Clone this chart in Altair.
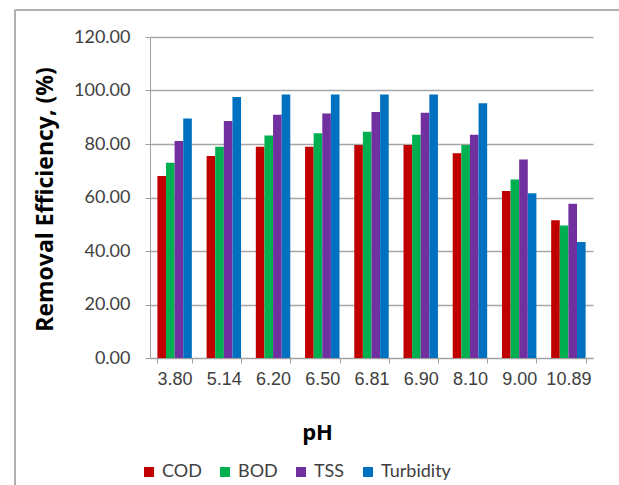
import altair as alt
import pandas as pd

ph = ["3.80", "5.14", "6.20", "6.50", "6.81", "6.90", "8.10", "9.00", "10.89"]
series = ["COD", "BOD", "TSS", "Turbidity"]
cod = [68.0, 75.5, 79.0, 79.0, 79.6, 79.6, 76.5, 62.4, 51.5]
bod = [73.0, 79.0, 83.2, 84.0, 84.6, 83.5, 79.6, 66.7, 49.5]
tss = [81.1, 88.6, 90.9, 91.4, 92.0, 91.7, 83.5, 74.2, 57.7]
turb = [89.5, 97.6, 98.5, 98.5, 98.5, 98.5, 95.2, 61.6, 43.4]
colors = ["#C00000", "#00B050", "#7030A0", "#0070C0"]

rows = []
for name, vals in zip(series, [cod, bod, tss, turb]):
    for p, v in zip(ph, vals):
        rows.append({"pH": p, "Parameter": name, "Value": v})
df = pd.DataFrame(rows)

FONT = "Lato"
TFONT = "Open Sans"

bars = alt.Chart(df).mark_bar().encode(
    x=alt.X("pH:N", sort=ph,
            scale=alt.Scale(paddingInner=0.3, paddingOuter=0.15),
            axis=alt.Axis(title="pH", labelAngle=0, tickBand="extent",
                          labelFontSize=18, labelFont="Liberation Sans",
                          labelColor="#404040", labelPadding=7,
                          tickSize=5, tickColor="#A0A0A0",
                          domainColor="#A0A0A0",
                          titleFontSize=22, titleFontWeight="bold",
                          titleFont=TFONT, titleColor="#000000",
                          titleX=167, titleY=74, titleBaseline="middle",
                          grid=False)),
    xOffset=alt.XOffset("Parameter:N", sort=series,
                        scale=alt.Scale(paddingInner=0, paddingOuter=0)),
    y=alt.Y("Value:Q",
            scale=alt.Scale(domain=[0, 120]),
            axis=alt.Axis(title="Removal Efficiency, (%)", values=[0, 20, 40, 60, 80, 100, 120],
                          format=".2f", labelFontSize=18, labelFont=FONT,
                          labelColor="#404040", labelPadding=15,
                          tickSize=5, tickColor="#A0A0A0",
                          domainColor="#A0A0A0",
                          gridColor="#A6A6A6", gridWidth=1.5,
                          titleFontSize=23, titleFontWeight="bold",
                          titleFont=TFONT, titleColor="#000000",
                          titleX=-105, titleY=162, titleAngle=-90,
                          titleAlign="center", titleBaseline="middle")),
    color=alt.Color("Parameter:N", sort=series,
                    scale=alt.Scale(domain=series, range=colors),
                    legend=alt.Legend(title=None, orient="none", direction="horizontal",
                                      legendX=-10, legendY=426,
                                      symbolType="square", symbolSize=100,
                                      symbolStrokeWidth=0,
                                      labelFontSize=18, labelFont=FONT,
                                      labelColor="#404040", labelOffset=4,
                                      columnPadding=14)),
)

frame_top = alt.Chart(df).mark_rule(color="#B0B0B0", strokeWidth=1.5).encode(
    x=alt.value(-135), x2=alt.value(480), y=alt.value(-27)
)
frame_left = alt.Chart(df).mark_rule(color="#B0B0B0", strokeWidth=1.5).encode(
    x=alt.value(-135), y=alt.value(-27), y2=alt.value(460)
)

chart = alt.layer(bars, frame_top, frame_left).properties(
    width=443, height=321,
    autosize=alt.AutoSizeParams(type="none"),
    padding={"left": 150, "top": 37, "right": 26, "bottom": 127},
    background="white",
).configure_view(stroke=None)

chart.save("out.html", embed_options={"renderer": "svg", "actions": False})
